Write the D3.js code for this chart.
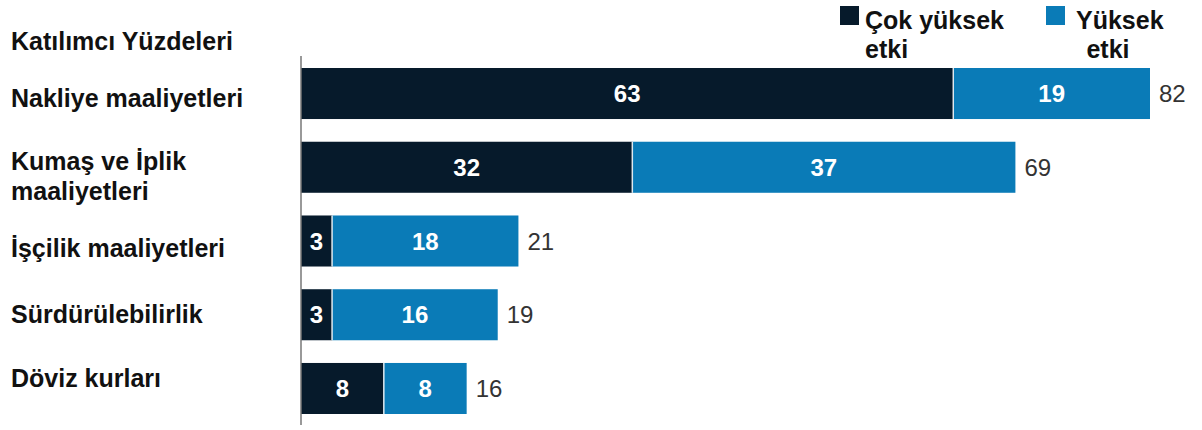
<!DOCTYPE html>
<html>
<head>
<meta charset="utf-8">
<script src="https://cdn.jsdelivr.net/npm/d3@7"></script>
<style>
  html, body { margin: 0; padding: 0; background: #fff; }
  svg { display: block; font-family: "Liberation Sans", Arial, sans-serif; }
</style>
</head>
<body>
<svg id="chart" width="1202" height="430"></svg>
<script>
// Survey: share of participants rating each cost factor's impact
const categories = [
  ["Nakliye maaliyetleri"],
  ["Kumaş ve İplik", "maaliyetleri"],
  ["İşçilik maaliyetleri"],
  ["Sürdürülebilirlik"],
  ["Döviz kurları"]
];
const veryHigh = [63, 32, 3, 3, 8];   // Çok yüksek etki
const high     = [19, 37, 18, 16, 8]; // Yüksek etki
const totals   = [82, 69, 21, 19, 16];
const seriesNames = [["Çok yüksek", "etki"], ["Yüksek", "etki"]];
const axisTitle = "Katılımcı Yüzdeleri";

const colors = ["#061a2b", "#0a7bb7"];
const labelNudge = [4, 8.5, 7, -1, -10];

const svg = d3.select("#chart");
const keys = categories.map(c => c.join(" "));

const x = d3.scaleLinear().domain([0, 82]).range([301, 1150]);
const y = d3.scaleBand().domain(keys).range([68, 414]).paddingInner(0.308).paddingOuter(0);

const rows = keys.map((k, i) => ({ key: k, lines: categories[i], a: veryHigh[i], b: high[i], t: totals[i], i }));

// axis title
svg.append("text")
  .attr("x", 11).attr("y", 50)
  .attr("font-size", 25).attr("font-weight", "bold").attr("fill", "#111")
  .text(axisTitle);

// category labels
const lab = svg.append("g");
rows.forEach(r => {
  const n = r.lines.length;
  const cy = y(r.key) + y.bandwidth() / 2 + labelNudge[r.i];
  const lh = 30;
  const t = lab.append("text")
    .attr("font-size", 25).attr("font-weight", "bold").attr("fill", "#111");
  r.lines.forEach((ln, j) => {
    t.append("tspan")
      .attr("x", 11)
      .attr("y", cy + 9 + (j - (n - 1) / 2) * lh)
      .text(ln);
  });
});

// stacked bars
const g = svg.append("g");
rows.forEach(r => {
  const by = y(r.key), bh = y.bandwidth();
  g.append("rect")
    .attr("x", x(0)).attr("y", by)
    .attr("width", x(r.a) - x(0)).attr("height", bh)
    .attr("fill", colors[0]);
  g.append("rect")
    .attr("x", x(r.a)).attr("y", by)
    .attr("width", x(r.a + r.b) - x(r.a)).attr("height", bh)
    .attr("fill", colors[1]);
  // thin divider between segments
  g.append("line")
    .attr("x1", x(r.a)).attr("x2", x(r.a))
    .attr("y1", by).attr("y2", by + bh)
    .attr("stroke", "#dfe8ee").attr("stroke-width", 1.5);

  const ty = by + bh / 2 + 8.5;
  g.append("text")
    .attr("x", (x(0) + x(r.a)) / 2).attr("y", ty)
    .attr("text-anchor", "middle")
    .attr("font-size", 24).attr("font-weight", "bold").attr("fill", "#fff")
    .text(r.a);
  g.append("text")
    .attr("x", (x(r.a) + x(r.a + r.b)) / 2).attr("y", ty)
    .attr("text-anchor", "middle")
    .attr("font-size", 24).attr("font-weight", "bold").attr("fill", "#fff")
    .text(r.b);
  g.append("text")
    .attr("x", x(r.t) + 9).attr("y", ty)
    .attr("font-size", 24).attr("fill", "#333")
    .text(r.t);
});

// baseline axis line
svg.append("line")
  .attr("x1", x(0)).attr("x2", x(0))
  .attr("y1", 56).attr("y2", 425)
  .attr("stroke", "#777").attr("stroke-width", 1.5);

// legend
const leg = svg.append("g");
const legPos = [{ sx: 840, tx: 865, ex: 865 }, { sx: 1046, tx: 1076, ex: 1108 }];
seriesNames.forEach((nm, i) => {
  const p = legPos[i];
  leg.append("rect")
    .attr("x", p.sx).attr("y", 6).attr("width", 19).attr("height", 19)
    .attr("fill", colors[i]);
  leg.append("text")
    .attr("x", p.tx).attr("y", 29)
    .attr("font-size", 25).attr("font-weight", "bold").attr("fill", "#111")
    .text(nm[0]);
  leg.append("text")
    .attr("x", p.ex).attr("y", 58)
    .attr("text-anchor", i === 0 ? "start" : "middle")
    .attr("font-size", 25).attr("font-weight", "bold").attr("fill", "#111")
    .text(nm[1]);
});
</script>
</body>
</html>
